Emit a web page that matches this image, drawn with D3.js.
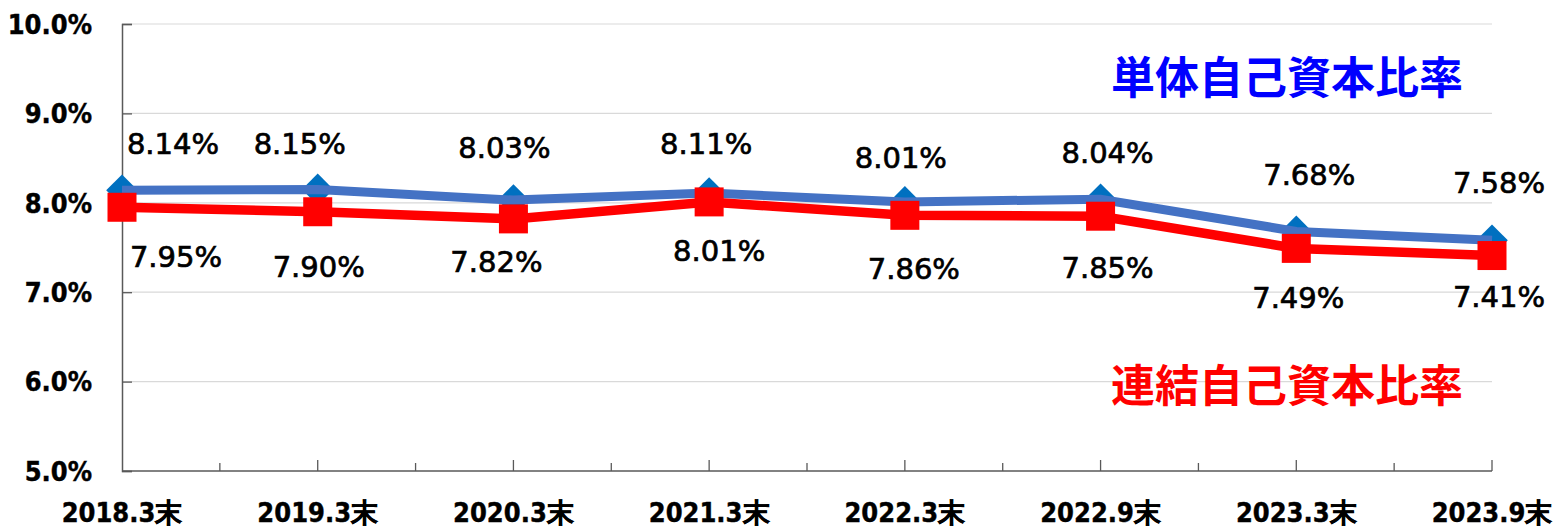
<!DOCTYPE html>
<html>
<head>
<meta charset="utf-8">
<script src="https://cdn.jsdelivr.net/npm/d3@7"></script>
<style>
  body { margin: 0; background: #fff; }
  svg { display: block; }
</style>
</head>
<body>
<div id="chart"></div>
<script>
// data
var categories = ["2018.3末", "2019.3末", "2020.3末", "2021.3末", "2022.3末", "2022.9末", "2023.3末", "2023.9末"];
var tanTai = [8.14, 8.15, 8.03, 8.11, 8.01, 8.04, 7.68, 7.58];   // 単体自己資本比率
var renketsu = [7.95, 7.90, 7.82, 8.01, 7.86, 7.85, 7.49, 7.41]; // 連結自己資本比率
var yTicks = [5, 6, 7, 8, 9, 10];

// hand placed data labels (offset from the point, like in the original sheet)
var blueLabelDx = [51, -18, -9, -3, -4, 7, 13, 7];
var blueLabelDy = [-36, -35, -42, -39, -34, -36, -46, -47];
var redLabelDx = [54, 1, -17, 10, 9, 7, 2, 7];
var redLabelDy = [60, 65, 53, 59, 64, 62, 60, 51];

var width = 1560, height = 528;
var margin = {top: 24, right: 68, bottom: 57, left: 122};

var svg = d3.select("#chart").append("svg")
    .attr("width", width)
    .attr("height", height);

var x = d3.scalePoint()
    .domain(categories)
    .range([margin.left, width - margin.right]);

var y = d3.scaleLinear()
    .domain([5, 10])
    .range([height - margin.bottom, margin.top]);

var axisFont = "'DejaVu Sans Condensed', 'DejaVu Sans', sans-serif";

// gridlines
svg.append("g")
    .selectAll("line")
    .data(yTicks.filter(function(d) { return d > 5; }))
    .enter().append("line")
    .attr("x1", margin.left)
    .attr("x2", width - margin.right)
    .attr("y1", function(d) { return y(d); })
    .attr("y2", function(d) { return y(d); })
    .attr("stroke", "#d9d9d9")
    .attr("stroke-width", 1.2);

// y axis
var yAxis = svg.append("g")
    .attr("transform", "translate(" + margin.left + ",0)")
    .call(d3.axisRight(y).tickValues(yTicks).tickSize(10).tickFormat(""));
yAxis.select(".domain").attr("stroke", "#595959").attr("stroke-width", 1.5);
yAxis.selectAll(".tick line").attr("stroke", "#595959").attr("stroke-width", 1.3);

svg.append("g")
    .selectAll("text")
    .data(yTicks)
    .enter().append("text")
    .attr("x", 92)
    .attr("y", function(d) { return y(d); })
    .attr("dy", "0.36em")
    .attr("text-anchor", "end")
    .attr("font-family", axisFont)
    .attr("font-weight", "bold")
    .attr("font-size", "27px")
    .attr("fill", "#000")
    .attr("stroke", "#000")
    .attr("stroke-width", 0.4)
    .text(function(d) { return d.toFixed(1) + "%"; });

// x axis: long ticks on categories, short ones half way between
var xAxisG = svg.append("g")
    .attr("transform", "translate(0," + y(5) + ")");
xAxisG.append("line")
    .attr("x1", margin.left)
    .attr("x2", width - margin.right)
    .attr("stroke", "#595959")
    .attr("stroke-width", 1.5);
xAxisG.selectAll(".major")
    .data(categories.slice(1))
    .enter().append("line")
    .attr("class", "major")
    .attr("x1", function(d) { return x(d); })
    .attr("x2", function(d) { return x(d); })
    .attr("y1", 0)
    .attr("y2", -11)
    .attr("stroke", "#595959")
    .attr("stroke-width", 1.3);
xAxisG.selectAll(".minor")
    .data(categories.slice(1))
    .enter().append("line")
    .attr("class", "minor")
    .attr("x1", function(d) { return x(d) - x.step() / 2; })
    .attr("x2", function(d) { return x(d) - x.step() / 2; })
    .attr("y1", 0)
    .attr("y2", -8)
    .attr("stroke", "#595959")
    .attr("stroke-width", 1.3);

svg.append("g")
    .selectAll("text")
    .data(categories)
    .enter().append("text")
    .attr("x", function(d) { return x(d); })
    .attr("y", 522)
    .attr("text-anchor", "middle")
    .attr("font-family", axisFont)
    .attr("font-weight", "bold")
    .attr("font-size", "27px")
    .attr("fill", "#000")
    .attr("stroke", "#000")
    .attr("stroke-width", 0.4)
    .text(function(d) { return d; });

var line = d3.line()
    .x(function(d, i) { return x(categories[i]); })
    .y(function(d) { return y(d); });

// blue series: diamonds under the line
svg.append("g")
    .selectAll("path")
    .data(tanTai)
    .enter().append("path")
    .attr("d", d3.symbol(d3.symbolSquare, 500))
    .attr("transform", function(d, i) {
        return "translate(" + x(categories[i]) + "," + y(d) + ") rotate(45)";
    })
    .attr("fill", "#0070c0");

svg.append("path")
    .datum(tanTai)
    .attr("d", line)
    .attr("fill", "none")
    .attr("stroke", "#4472c4")
    .attr("stroke-width", 9);

// red series
svg.append("path")
    .datum(renketsu)
    .attr("d", line)
    .attr("fill", "none")
    .attr("stroke", "#ff0000")
    .attr("stroke-width", 9.5);

svg.append("g")
    .selectAll("path")
    .data(renketsu)
    .enter().append("path")
    .attr("d", d3.symbol(d3.symbolSquare, 841))
    .attr("transform", function(d, i) {
        return "translate(" + x(categories[i]) + "," + y(d) + ")";
    })
    .attr("fill", "#ff0000");

// data labels
function labels(values, dxs, dys) {
    svg.append("g")
        .selectAll("text")
        .data(values)
        .enter().append("text")
        .attr("x", function(d, i) { return x(categories[i]) + dxs[i]; })
        .attr("y", function(d, i) { return y(d) + dys[i]; })
        .attr("text-anchor", "middle")
        .attr("font-family", "'DejaVu Sans', sans-serif")
        .attr("font-size", "29px")
        .attr("fill", "#000")
        .attr("stroke", "#000")
        .attr("stroke-width", 0.7)
        .text(function(d) { return d.toFixed(2) + "%"; });
}
labels(tanTai, blueLabelDx, blueLabelDy);
labels(renketsu, redLabelDx, redLabelDy);

// series names
var cjk = "'Noto Sans CJK JP', 'Noto Sans CJK SC', sans-serif";
svg.append("text")
    .attr("x", 1287)
    .attr("y", 94)
    .attr("text-anchor", "middle")
    .attr("font-family", cjk)
    .attr("font-weight", "bold")
    .attr("font-size", "44px")
    .attr("fill", "#0000ff")
    .text("単体自己資本比率");

svg.append("text")
    .attr("x", 1287)
    .attr("y", 402)
    .attr("text-anchor", "middle")
    .attr("font-family", cjk)
    .attr("font-weight", "bold")
    .attr("font-size", "44px")
    .attr("fill", "#ff0000")
    .text("連結自己資本比率");
</script>
</body>
</html>
